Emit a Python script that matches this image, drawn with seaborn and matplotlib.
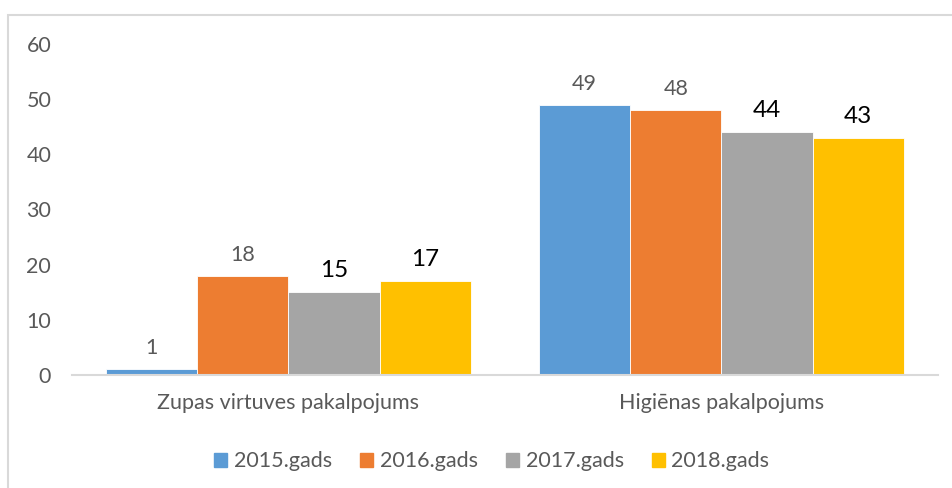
import pandas as pd
import matplotlib.pyplot as plt
import matplotlib.patches as mpatches
import seaborn as sns

# ── DATA ───────────────────────────────────────────────────────────────────
categories = ['Zupas virtuves pakalpojums', 'Higiēnas pakalpojums']
years = ['2015.gads', '2016.gads', '2017.gads', '2018.gads']
v2015 = [1, 49]
v2016 = [18, 48]
v2017 = [15, 44]
v2018 = [17, 43]

COLORS = ['#5B9BD5', '#ED7D31', '#A5A5A5', '#FFC000']
TXT = '#595959'

df = pd.DataFrame({
    'Kategorija': categories * 4,
    'Gads': [y for y in years for _ in categories],
    'Vertiba': v2015 + v2016 + v2017 + v2018,
})

# ── STYLE ──────────────────────────────────────────────────────────────────
sns.set_style('white')
plt.rcParams['font.family'] = ['Lato', 'DejaVu Sans']

fig = plt.figure(figsize=(9.53, 4.88), dpi=100)
ax = fig.add_axes([0.0756, 0.2316, 0.9084, 0.6782])

sns.barplot(data=df, x='Kategorija', y='Vertiba', hue='Gads',
            order=categories, hue_order=years, palette=COLORS,
            saturation=1, width=0.843, gap=0, edgecolor='white',
            linewidth=0.6, errorbar=None, ax=ax)

# data labels: first two series gray, last two larger/black
for i, cont in enumerate(ax.containers):
    if i < 2:
        ax.bar_label(cont, padding=8, fontsize=15.5, color=TXT)
    else:
        ax.bar_label(cont, padding=8, fontsize=17.5, color='black')

ax.set_ylim(0, 60)
ax.set_xlim(-0.5, 1.5)
ax.set_yticks(range(0, 61, 10))
ax.set_xlabel('')
ax.set_ylabel('')
ax.tick_params(axis='y', length=0, pad=15, labelsize=15.5, labelcolor=TXT)
ax.tick_params(axis='x', length=0, pad=13, labelsize=15.5, labelcolor=TXT)
ax.grid(False)
for s in ['top', 'right', 'left']:
    ax.spines[s].set_visible(False)
ax.spines['bottom'].set_color('#D9D9D9')
ax.spines['bottom'].set_linewidth(1.5)

ax.legend_.remove()
handles = [mpatches.Patch(color=c, label=y) for c, y in zip(COLORS, years)]
leg = fig.legend(handles=handles, loc='center', ncol=4, frameon=False,
                 bbox_to_anchor=(0.516, 0.055), fontsize=15.5,
                 handlelength=0.62, handleheight=0.62, handletextpad=0.3,
                 columnspacing=1.3)
for t in leg.get_texts():
    t.set_color(TXT)

# chart border (top and left visible, rest cropped)
fig.patches.append(mpatches.Rectangle((8 / 953, -0.5), 2, 0.5 + 473 / 488,
                                      transform=fig.transFigure, fill=False,
                                      edgecolor='#D9D9D9', linewidth=1.5))

plt.savefig('out.png', dpi=100)
